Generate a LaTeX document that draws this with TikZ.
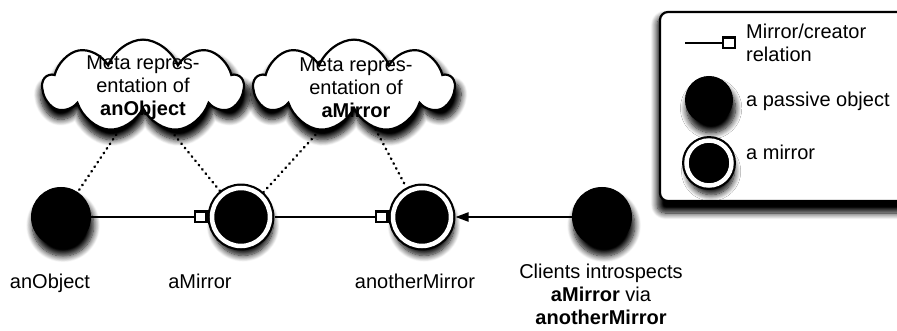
\documentclass[tikz,border=0pt]{standalone}
\usepackage{fontspec}
\setmainfont{Liberation Sans}
\usetikzlibrary{shapes.symbols,arrows.meta,shadows.blur}
\begin{document}
\begin{tikzpicture}[x=1pt,y=-1pt,
  every node/.style={font=\fontsize{20}{23}\selectfont, inner sep=0pt},
  softshadow/.style={blur shadow={shadow xshift=2pt,shadow yshift=-8pt,shadow scale=1.04,shadow blur radius=6pt,shadow blur steps=10,shadow opacity=100}},
  passivenode/.style={circle,fill=black,draw=black,line width=1pt,minimum size=#1,softshadow},
  mirrornode/.style={circle,fill=black,draw=black,line width=2.2pt,double=white,double distance=4.5pt,minimum size=#1,outer sep=4.5pt,softshadow},
  metacloud/.style={cloud,cloud puffs=9,cloud puff arc=130,draw,line width=2.2pt,fill=white,minimum width=200pt,minimum height=80pt,cloud ignores aspect,transform shape,yscale=1.16,softshadow},
  creator/.style={line width=2.2pt,-{Square[length=14pt,width=13pt,fill=white]}},
  callarrow/.style={line width=2.2pt,-{Triangle[length=13pt,width=9pt]}},
  metalink/.style={line width=2.6pt,line cap=round,dash pattern=on 0.5pt off 5pt}]
\useasboundingbox (0,0) rectangle (897,331);
\clip (0,0) rectangle (897,331);

% meta-level clouds
\node[metacloud] (c1) at (143,86) {};
\node[metacloud] (c2) at (354,86) {};
\node[align=center] (t1) at (143,88) {Meta repres-\\entation of\\\textbf{anObject}};
\node[align=center] (t2) at (356,88) {Meta repres-\\entation of\\\textbf{aMirror}};

% base-level objects
\node[passivenode=59pt] (obj) at (61,217) {};
\node[mirrornode=58pt] (mir1) at (241,217) {};
\node[mirrornode=58pt] (mir2) at (422,217) {};
\node[passivenode=59pt] (cli) at (602,217) {};

% links between clouds and the objects they describe
\draw[metalink] (c1.238) -- (obj);
\draw[metalink] (c1.306) -- (mir1);
\draw[metalink] (c2.228) -- (mir1);
\draw[metalink] (c2.300) -- (mir2);

% mirror/creator relations and the client call
\draw[creator] (obj) -- (mir1);
\draw[creator] (mir1) -- (mir2);
\draw[callarrow] (cli) -- (mir2);

% object names
\node[anchor=base] (lobj) at (50,288) {anObject};
\node[anchor=base] (lmir1) at (200,288) {aMirror};
\node[anchor=base] (lmir2) at (415,288) {anotherMirror};
\node[anchor=north,align=center] (lcli) at (601,264) {Clients introspects\\\textbf{aMirror} via\\\textbf{anotherMirror}};

% legend
\draw[rounded corners=8pt,line width=2.2pt,fill=white,softshadow] (660,12) rectangle (912,201);
\coordinate (ka) at (685,43);
\coordinate (kb) at (736,43);
\draw[creator] (ka) -- (kb);
\node[anchor=north west,align=left] (kt1) at (746,24) {Mirror/creator\\relation};
\node[passivenode=47pt] (kp) at (709,100) {};
\node[anchor=base west] (kt2) at (746,107) {a passive object};
\node[mirrornode=45pt] (km) at (709,163) {};
\node[anchor=base west] (kt3) at (746,160) {a mirror};
\end{tikzpicture}
\end{document}
